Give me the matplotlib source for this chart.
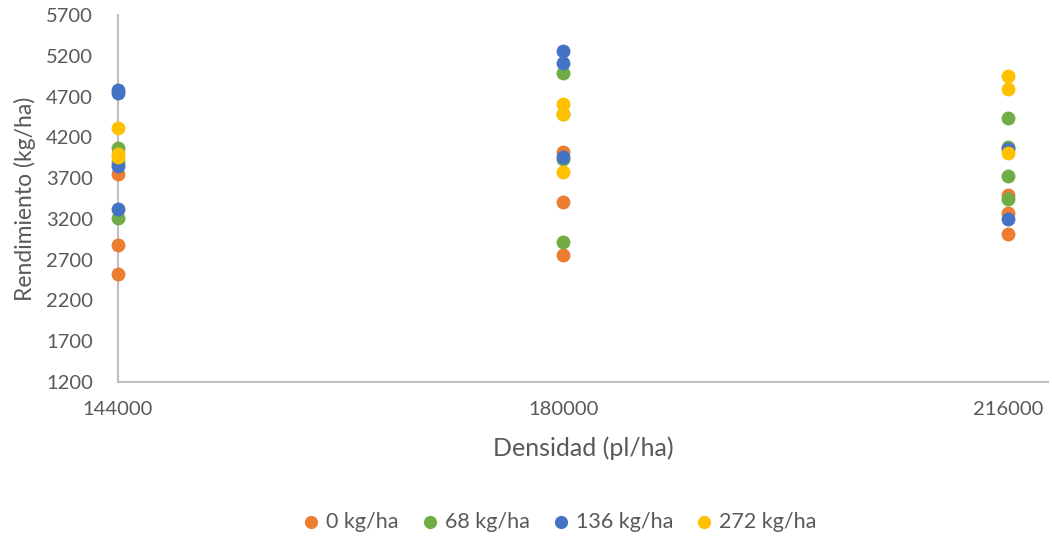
import matplotlib.pyplot as plt

plt.rcParams['font.family'] = ['Lato', 'DejaVu Sans']

# values
labels = ["0 kg/ha", "68 kg/ha", "136 kg/ha", "272 kg/ha"]
colors = ["#ED7D31", "#70AD47", "#4472C4", "#FFC000"]

x_0 = [144000, 144000, 144000, 180000, 180000, 180000, 216000, 216000, 216000]
y_0 = [3750, 2880, 2530, 4016, 3407, 2757, 3493, 3268, 3011]

x_68 = [144000, 144000, 144000, 180000, 180000, 180000, 180000, 216000, 216000, 216000, 216000]
y_68 = [4065, 3900, 3215, 4993, 4482, 3931, 2917, 4433, 4086, 3726, 3444]

x_136 = [144000, 144000, 144000, 144000, 180000, 180000, 180000, 216000, 216000]
y_136 = [4780, 4740, 3850, 3321, 5259, 5108, 3955, 4057, 3199]

x_272 = [144000, 144000, 144000, 180000, 180000, 180000, 216000, 216000, 216000]
y_272 = [4320, 3990, 3960, 4609, 4490, 3771, 4952, 4797, 4012]

series = [(x_0, y_0), (x_68, y_68), (x_136, y_136), (x_272, y_272)]

fig = plt.figure(figsize=(10.52, 5.40), dpi=100)
ax = fig.add_axes([118 / 1052, 1 - 382 / 540, (1048 - 118) / 1052, (382 - 15) / 540])

for (xs, ys), lab, col in zip(series, labels, colors):
    ax.scatter(xs, ys, s=100, color=col, label=lab, linewidths=0, zorder=3, clip_on=False)

ax.set_xlim(144000, 219200)
ax.set_ylim(1200, 5700)
ax.set_xticks([144000, 180000, 216000])
ax.set_yticks(range(1200, 5701, 500))

for side in ["top", "right"]:
    ax.spines[side].set_visible(False)
for side in ["left", "bottom"]:
    ax.spines[side].set_color("#BFBFBF")
    ax.spines[side].set_linewidth(1.5)
ax.tick_params(length=0, labelsize=14.5, colors="#595959")
ax.tick_params(axis="y", pad=18)
ax.tick_params(axis="x", pad=14)

ax.set_ylabel("Rendimiento (kg/ha)", fontsize=16.5, color="#595959", labelpad=7)
ax.set_xlabel("Densidad (pl/ha)", fontsize=18, color="#595959", labelpad=13)

leg = fig.legend(loc="center", bbox_to_anchor=(553 / 1052, 1 - 522 / 540), ncol=4,
                 frameon=False, fontsize=15.5, handletextpad=-0.3, columnspacing=0.45,
                 markerscale=0.95, labelcolor="#595959")

fig.savefig("out.png", dpi=100)
